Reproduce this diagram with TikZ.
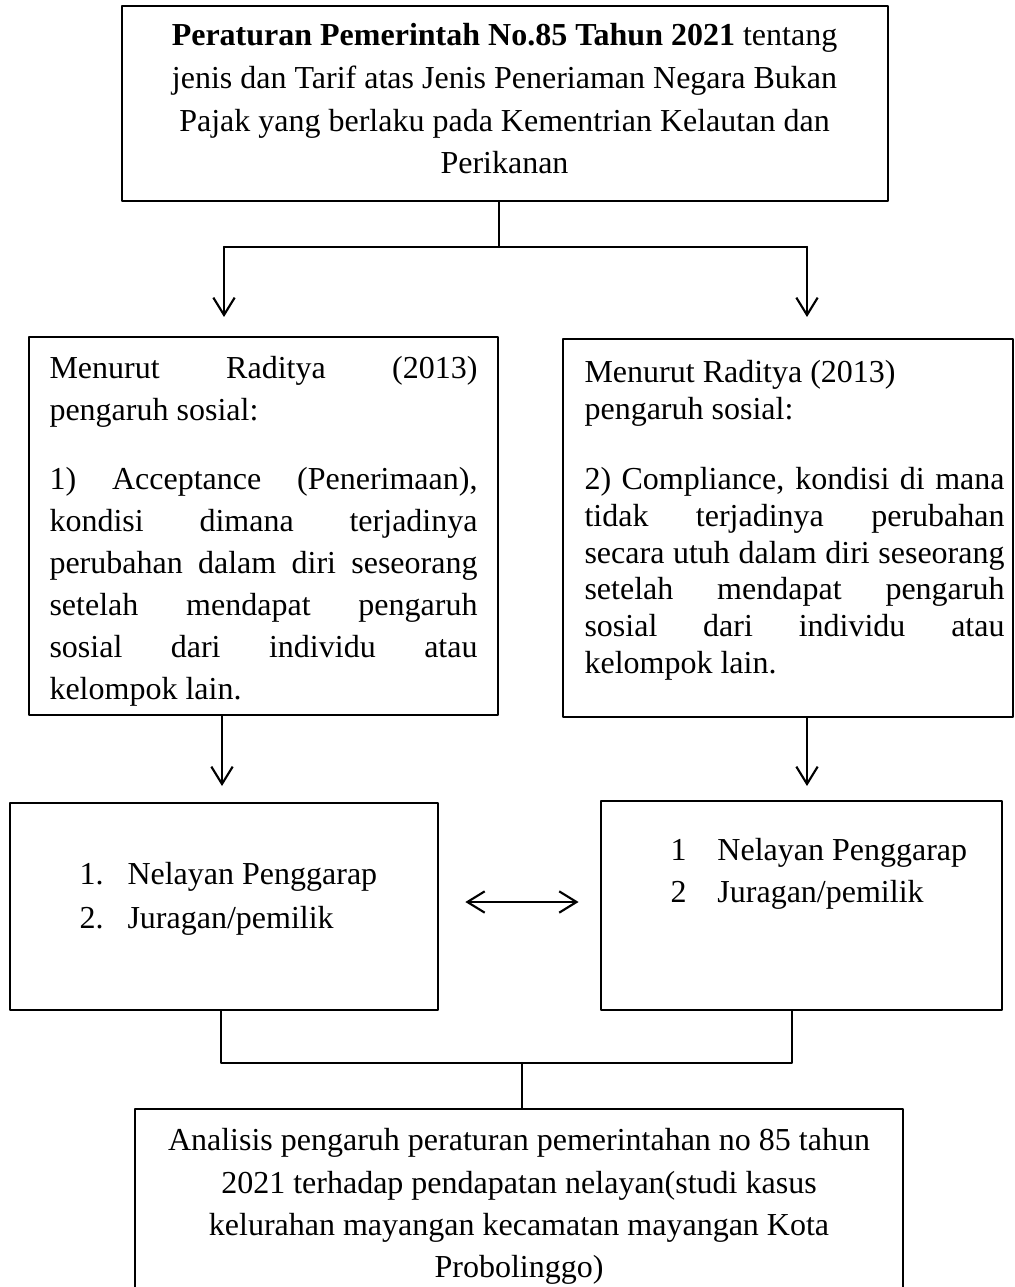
\documentclass[tikz,border=0pt]{standalone}
\usepackage{fontspec}
\setmainfont{Liberation Serif}
\usetikzlibrary{arrows.meta}

\tikzset{
  kotak/.style={draw,line width=1pt,inner sep=0pt},
  teks/.style={inner sep=0pt,font=\fontsize{12}{15.75}\selectfont},
  garis/.style={line width=0.8pt}
}

\begin{document}
\begin{tikzpicture}[line cap=round,line join=round,>={Straight Barb[length=6.5pt,width=8pt]},x=0.375pt,y=-0.375pt]
\useasboundingbox (0,0) rectangle (1014,1287);
\clip (0,0) rectangle (1014,1287);
% kotak-kotak
\node[kotak,minimum width=287.25pt,minimum height=73.1pt] (pp85) at (505,103.5) {};
\node[kotak,minimum width=175.9pt,minimum height=141.75pt] (teoriL) at (263.5,526) {};
\node[kotak,minimum width=168.75pt,minimum height=141.75pt] (teoriR) at (788,528) {};
\node[kotak,minimum width=160.5pt,minimum height=77.6pt] (nelayanL) at (224,906.5) {};
\node[kotak,minimum width=150.4pt,minimum height=78.4pt] (nelayanR) at (801.5,905.5) {};
\node[kotak,minimum width=288pt,minimum height=82.9pt] (analisis) at (519,1219.5) {};
% isi teks
\node[teks,anchor=north,align=center,font=\fontsize{12}{16}\selectfont] (pp85txt) at (504.5,23)
  {\textbf{Peraturan Pemerintah No.85 Tahun 2021} tentang\\
   jenis dan Tarif atas Jenis Peneriaman Negara Bukan\\
   Pajak yang berlaku pada Kementrian Kelautan dan\\
   Perikanan};
\node[teks,anchor=north west,text width=160.5pt,align=justify] (teoriLtxt) at (49,356)
  {Menurut Raditya (2013)\linebreak pengaruh sosial:\\[10pt]
   1) Acceptance (Penerimaan),\linebreak kondisi dimana terjadinya\linebreak
   perubahan dalam diri seseorang\linebreak setelah mendapat pengaruh\linebreak
   sosial dari individu atau\linebreak kelompok lain.};
\node[teks,anchor=north west,text width=157.5pt,align=justify,font=\fontsize{12}{13.8}\selectfont] (teoriRtxt) at (584,360)
  {Menurut Raditya (2013)\\ pengaruh sosial:\\[12.4pt]
   2) Compliance, kondisi di mana\linebreak tidak terjadinya perubahan\linebreak
   secara utuh dalam diri seseorang\linebreak setelah mendapat pengaruh\linebreak
   sosial dari individu atau\linebreak kelompok lain.};
\node[teks,anchor=north west,align=left,font=\fontsize{12}{16.5}\selectfont] (nelayanLtxt) at (79,862)
  {\makebox[18pt][l]{1.}Nelayan Penggarap\\ \makebox[18pt][l]{2.}Juragan/pemilik};
\node[teks,anchor=north west,align=left] (nelayanRtxt) at (670,838)
  {\makebox[17.6pt][l]{1}Nelayan Penggarap\\ \makebox[17.6pt][l]{2}Juragan/pemilik};
\node[teks,anchor=north,align=center,font=\fontsize{12}{15.9}\selectfont] (analisistxt) at (519,1128)
  {Analisis pengaruh peraturan pemerintahan no 85 tahun\\
   2021 terhadap pendapatan nelayan(studi kasus\\
   kelurahan mayangan kecamatan mayangan Kota\\
   Probolinggo)};
% garis penghubung
\coordinate (cabang) at (499,247);
\coordinate (kiri) at (224,247);
\coordinate (kanan) at (807,247);
\coordinate (ujungkiri) at (224,317);
\coordinate (ujungkanan) at (807,317);
\coordinate (panahkiri) at (222,786);
\coordinate (panahkanan) at (807,786);
\coordinate (tengah) at (522,902);
\coordinate (gabung) at (522,1063);
\draw[garis] (pp85.south -| cabang) -- (cabang);
\draw[garis] (kiri) -- (kanan);
\draw[garis,->] (kiri) -- (ujungkiri);
\draw[garis,->] (kanan) -- (ujungkanan);
\draw[garis,->] (teoriL.south -| panahkiri) -- (panahkiri);
\draw[garis,->] (teoriR.south -| panahkanan) -- (panahkanan);
\draw[garis,<->,shorten <=9.75pt,shorten >=7.9pt] (nelayanL.east |- tengah) -- (nelayanR.west |- tengah);
\draw[garis] ([xshift=-1.1pt]nelayanL.south) |- (gabung);
\draw[garis] ([xshift=-3.6pt]nelayanR.south) |- (gabung);
\draw[garis] (gabung) -- (analisis.north -| gabung);
\end{tikzpicture}
\end{document}
